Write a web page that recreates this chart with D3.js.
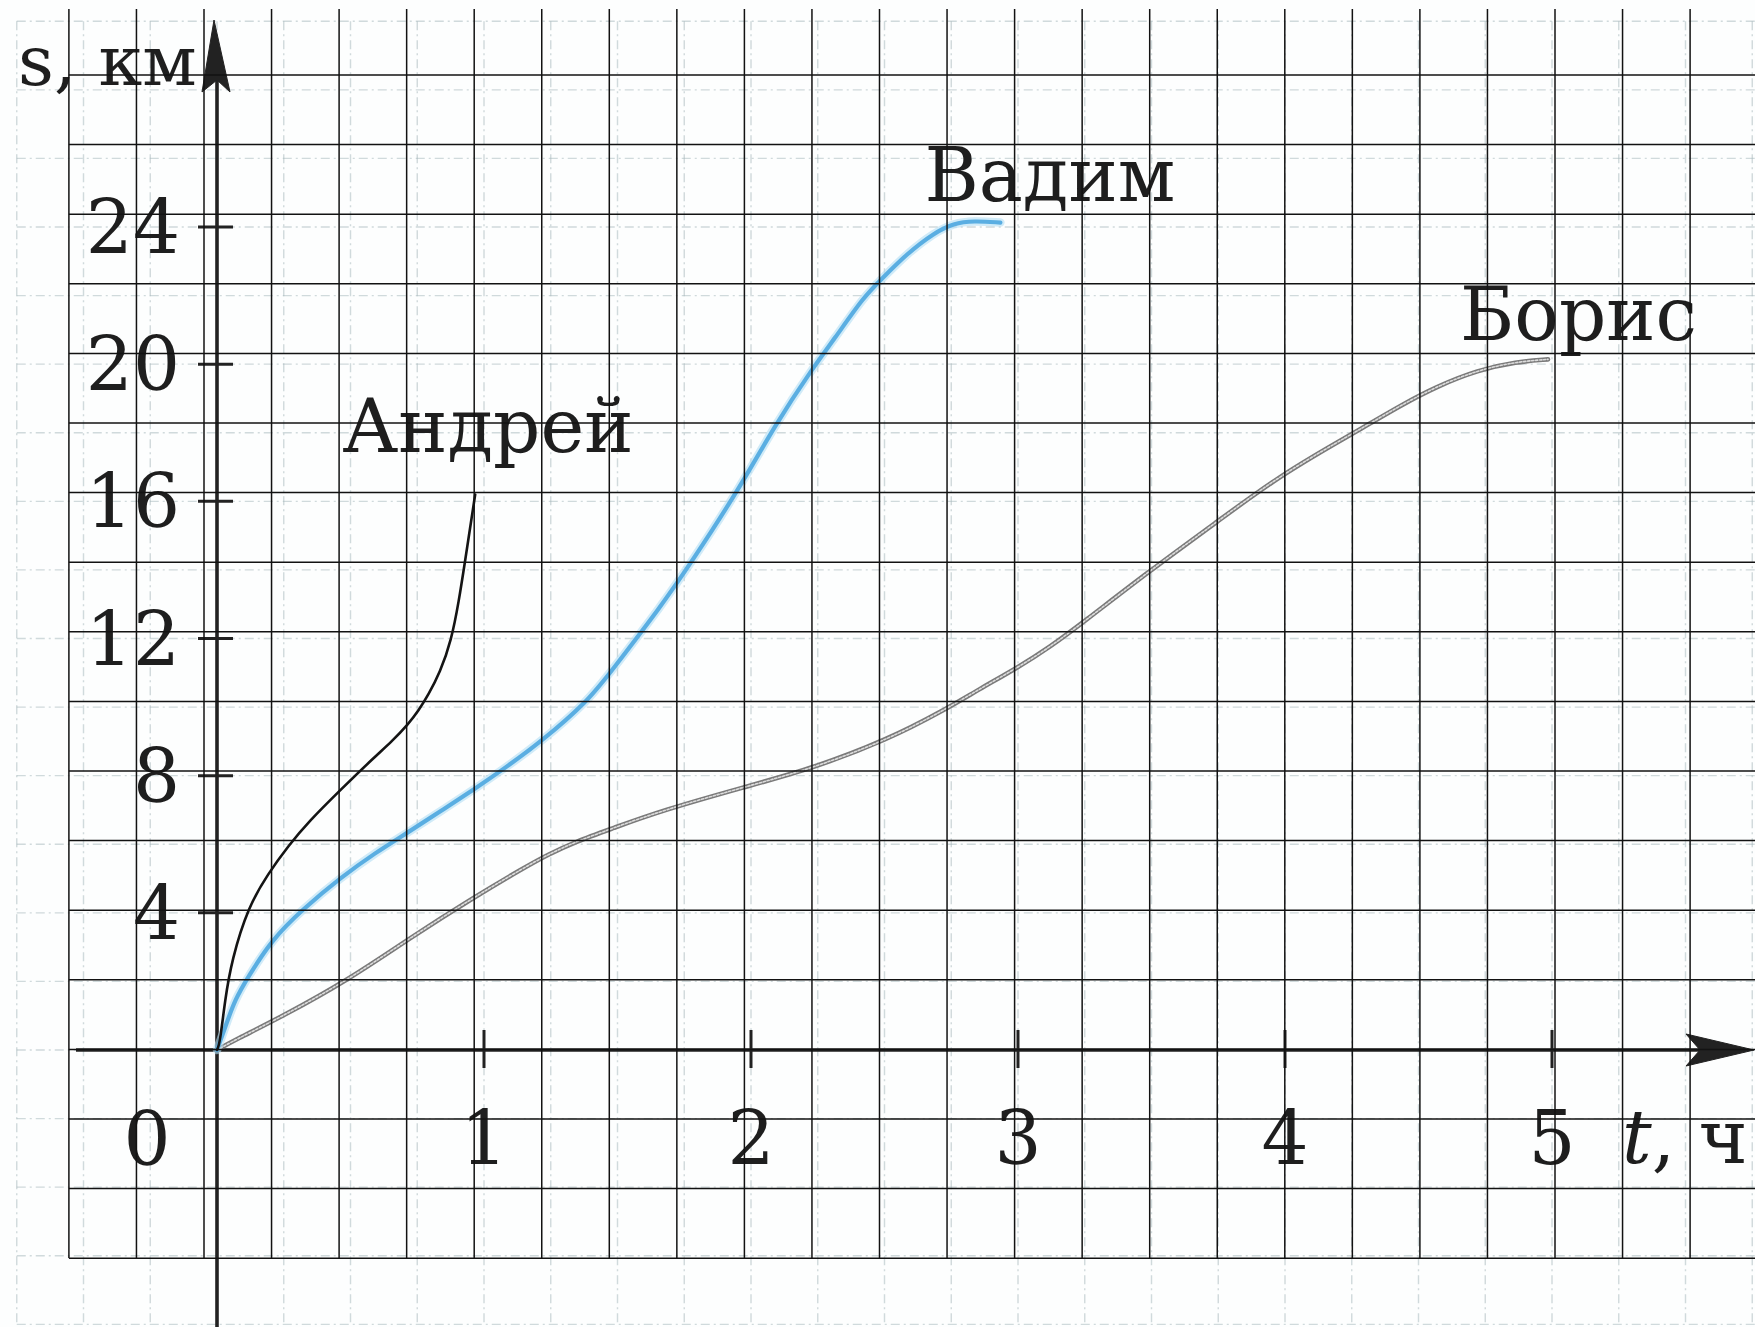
<!DOCTYPE html>
<html>
<head>
<meta charset="utf-8">
<script src="https://cdn.jsdelivr.net/npm/d3@7"></script>
<style>
  html, body { margin: 0; padding: 0; background: #ffffff; }
  svg { display: block; }
</style>
</head>
<body>
<svg id="chart" width="1755" height="1327"></svg>
<script>
// ---- data -------------------------------------------------------------
// axis ticks
const hourTicks = [1, 2, 3, 4, 5];
const kmTicks = [4, 8, 12, 16, 20, 24];

// series names
const riders = ["Андрей", "Вадим", "Борис"];

// Андрей: time t (h) and distance s (km)
const andreiT = [0, 0.011, 0.030, 0.055, 0.117, 0.192, 0.267, 0.342, 0.467, 0.591, 0.655, 0.716, 0.755, 0.791, 0.835, 0.878, 0.906, 0.926, 0.967];
const andreiS = [0, 0.20, 1.46, 2.62, 4.18, 5.15, 5.95, 6.65, 7.62, 8.55, 9.00, 9.50, 9.90, 10.35, 11.00, 11.95, 13.10, 14.10, 16.20];

// Вадим
const vadimT = [0, 0.036, 0.067, 0.117, 0.205, 0.317, 0.467, 0.591, 0.716, 0.841, 0.966, 1.078, 1.215, 1.390, 1.477, 1.664, 1.774, 1.961, 2.086, 2.235, 2.310, 2.423, 2.485, 2.585, 2.684, 2.759, 2.834, 2.934];
const vadimS = [0, 0.78, 1.46, 2.14, 3.21, 4.08, 5.05, 5.74, 6.35, 6.98, 7.62, 8.22, 9.00, 10.18, 11.05, 12.95, 14.19, 16.43, 18.18, 19.93, 20.71, 21.97, 22.45, 23.23, 23.82, 24.11, 24.18, 24.13];

// Борис
const borisT = [0, 0.067, 0.242, 0.491, 0.729, 0.966, 1.153, 1.240, 1.345, 1.477, 1.664, 1.981, 2.229, 2.509, 2.726, 2.850, 3.005, 3.121, 3.239, 3.489, 3.738, 3.975, 4.211, 4.303, 4.434, 4.565, 4.723, 4.867, 4.985];
const borisS = [0, 0.29, 0.97, 2.04, 3.30, 4.47, 5.33, 5.70, 6.08, 6.45, 6.98, 7.68, 8.21, 9.04, 9.92, 10.50, 11.18, 11.76, 12.44, 13.95, 15.36, 16.72, 17.79, 18.20, 18.80, 19.34, 19.83, 20.07, 20.14];

// ---- layout -----------------------------------------------------------
const W = 1755, H = 1327;
const FONT = "'DejaVu Serif', 'Liberation Serif', serif";
const FS = 74;
const INK = "#1e1e1e";

const svg = d3.select("#chart");
svg.append("rect").attr("width", W).attr("height", H).attr("fill", "#fdfefe");

const x = d3.scaleLinear().domain([0, 5]).range([217, 1552]);
const y = d3.scaleLinear().domain([0, 24]).range([1050, 227]);

// faint dashed squared paper underneath (quarter hour × 2 km)
const faint = svg.append("g")
  .attr("stroke", "#a3b5ba").attr("stroke-opacity", 0.5)
  .attr("stroke-width", 1.4).attr("stroke-dasharray", "9 4 2 4").attr("fill", "none");
const faintX = d3.range(-0.75, 5.76, 0.25);
const faintY = d3.range(-8, 30.1, 2);
faint.selectAll("line.v").data(faintX).join("line").attr("class", "v")
  .attr("x1", d => x(d)).attr("x2", d => x(d)).attr("y1", y(30)).attr("y2", y(-8));
faint.selectAll("line.h").data(faintY).join("line").attr("class", "h")
  .attr("x1", x(-0.75)).attr("x2", W).attr("y1", d => y(d)).attr("y2", d => y(d));

// ---- axes -------------------------------------------------------------
const axisG = svg.append("g").attr("stroke", "#222").attr("fill", "#222");

// horizontal axis with arrow
axisG.append("line").attr("x1", 76).attr("x2", 1700)
  .attr("y1", y(0)).attr("y2", y(0)).attr("stroke-width", 3.6);
axisG.append("path")
  .attr("d", `M${1754},${y(0)} L${1686},${y(0) - 16} L${1700},${y(0)} L${1686},${y(0) + 16} Z`)
  .attr("stroke-width", 1);

// vertical axis with arrow
axisG.append("line").attr("x1", x(0)).attr("x2", x(0))
  .attr("y1", 80).attr("y2", H).attr("stroke-width", 3.6);
axisG.append("path")
  .attr("d", `M${x(0) - 3},${20} L${x(0) - 15},${92} L${x(0)},${80} L${x(0) + 13},${92} Z`)
  .attr("stroke-width", 1);

// tick marks
axisG.selectAll("line.ty").data(kmTicks).join("line").attr("class", "ty")
  .attr("x1", x(0) - 19).attr("x2", x(0) + 16)
  .attr("y1", d => y(d)).attr("y2", d => y(d)).attr("stroke-width", 3);
axisG.selectAll("line.tx").data(hourTicks).join("line").attr("class", "tx")
  .attr("x1", d => x(d)).attr("x2", d => x(d))
  .attr("y1", y(0) - 20).attr("y2", y(0) + 18).attr("stroke-width", 3);

// tick labels
const labels = svg.append("g").attr("font-family", FONT).attr("font-size", FS).attr("fill", INK);
labels.selectAll("text.ly").data(kmTicks).join("text").attr("class", "ly")
  .attr("x", 180).attr("y", d => y(d) + 26).attr("text-anchor", "end").text(d => d);
labels.selectAll("text.lx").data(hourTicks).join("text").attr("class", "lx")
  .attr("x", d => x(d)).attr("y", 1164).attr("text-anchor", "middle").text(d => d);
labels.append("text").attr("x", 147).attr("y", 1165).attr("text-anchor", "middle").text("0");

// axis titles
labels.append("text").attr("x", 1622).attr("y", 1163)
  .html('<tspan font-style="italic">t</tspan>, ч');
labels.append("text").attr("x", 18).attr("y", 85).attr("font-size", 70).text("s, км");

// ---- curves -----------------------------------------------------------
const line = d3.line().x(d => x(d[0])).y(d => y(d[1])).curve(d3.curveBasis);
const zipPts = (ts, ss) => ts.map((t, i) => [t, ss[i]]);

const andrei = zipPts(andreiT, andreiS);
const vadim = zipPts(vadimT, vadimS);
const boris = zipPts(borisT, borisS);

const curves = svg.append("g").attr("fill", "none").attr("stroke-linecap", "round");

// Борис: grey beaded line
curves.append("path").attr("d", line(boris))
  .attr("stroke", "#7a7a7a").attr("stroke-width", 4.6);
curves.append("path").attr("d", line(boris))
  .attr("stroke", "#dcdcdc").attr("stroke-width", 1.6).attr("stroke-dasharray", "2.2 1.8");

// Вадим: soft light-blue line
curves.append("path").attr("d", line(vadim))
  .attr("stroke", "#b2ddf3").attr("stroke-width", 8.5).attr("stroke-opacity", 0.6);
curves.append("path").attr("d", line(vadim))
  .attr("stroke", "#5aaee2").attr("stroke-width", 4.2);

// Андрей: thin black line
curves.append("path").attr("d", line(andrei))
  .attr("stroke", "#141414").attr("stroke-width", 2.6);

// series names, placed relative to each curve's last point
const seriesEnds = [andrei, vadim, boris].map(p => p[p.length - 1]);
const nameOffsets = [[-133, -42], [-76, -22], [-88, -19]];
labels.selectAll("text.name").data(riders).join("text").attr("class", "name")
  .attr("x", (d, i) => x(seriesEnds[i][0]) + nameOffsets[i][0])
  .attr("y", (d, i) => y(seriesEnds[i][1]) + nameOffsets[i][1])
  .text(d => d);

// ---- solid squared paper grid drawn over everything ------------------
const paper = { x0: 68.9, dx: 67.55, nx: 25, y0: 75, dy: 69.6, ny: 18, top: 9, bottom: 1258 };
const grid = svg.append("g").attr("stroke", "#121212").attr("stroke-width", 1.5);
grid.selectAll("line.gv").data(d3.range(paper.nx)).join("line").attr("class", "gv")
  .attr("x1", i => paper.x0 + i * paper.dx).attr("x2", i => paper.x0 + i * paper.dx)
  .attr("y1", paper.top).attr("y2", paper.bottom);
grid.selectAll("line.gh").data(d3.range(paper.ny)).join("line").attr("class", "gh")
  .attr("x1", paper.x0).attr("x2", W)
  .attr("y1", i => paper.y0 + i * paper.dy).attr("y2", i => paper.y0 + i * paper.dy);
</script>
</body>
</html>
